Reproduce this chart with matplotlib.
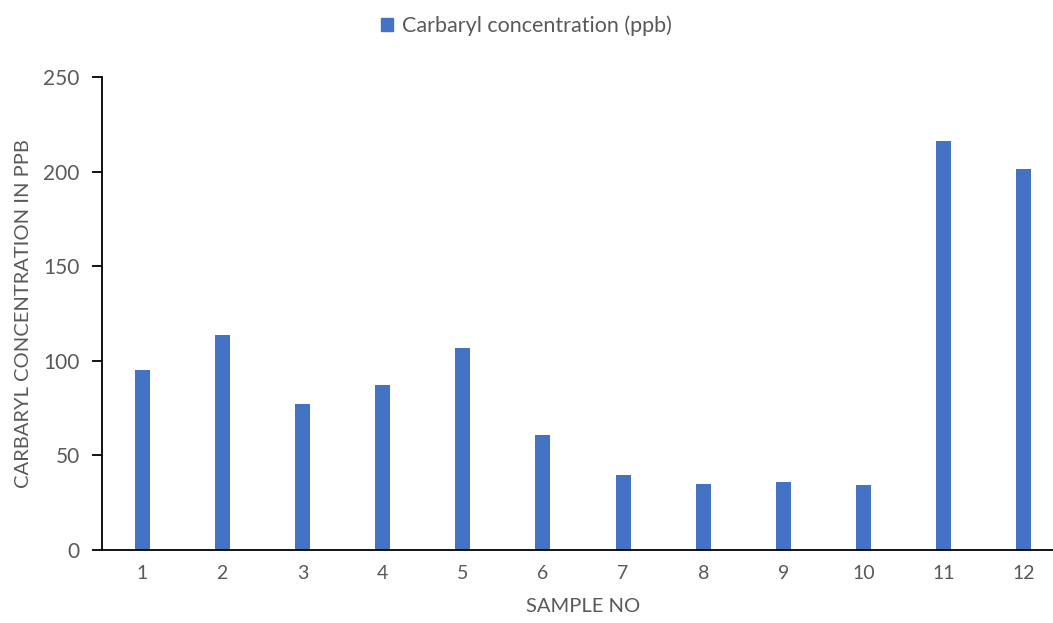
import matplotlib
matplotlib.use("Agg")
import matplotlib.pyplot as plt
from matplotlib.patches import Patch

samples = ["1", "2", "3", "4", "5", "6", "7", "8", "9", "10", "11", "12"]
carbaryl_ppb = [95.0, 113.7, 77.3, 87.0, 106.8, 61.0, 39.6, 35.0, 36.0, 34.6, 216.3, 201.6]
series_name = "Carbaryl concentration (ppb)"
yticks = [0, 50, 100, 150, 200, 250]

plt.rcParams['font.family'] = ['Lato', 'DejaVu Sans']
gray = "#595959"
blue = "#4472C4"

fig = plt.figure(figsize=(10.53, 6.23), dpi=100)
left_px, right_px = 102, 1064
ax = fig.add_axes([left_px/1053, 1 - 550/623, (right_px-left_px)/1053, (550-77)/623])

x = list(range(len(samples)))
ax.bar(x, carbaryl_ppb, width=0.187, color=blue, zorder=2)

ax.set_xlim(-0.5, len(samples) - 0.5)
ax.set_ylim(0, 250)
ax.set_yticks(yticks)
ax.set_yticklabels([str(t) for t in yticks], fontsize=15, color=gray)
ax.set_xticks(x)
ax.set_xticklabels(samples, fontsize=14, color=gray)

for s in ["top", "right"]:
    ax.spines[s].set_visible(False)
ax.spines["left"].set_linewidth(1.3)
ax.spines["bottom"].set_linewidth(1.3)
ax.spines["left"].set_color("black")
ax.spines["bottom"].set_color("black")
ax.tick_params(axis="y", direction="out", length=7, width=1.3, pad=9)
ax.tick_params(axis="x", length=0, pad=11)

ax.set_xlabel("SAMPLE NO", fontsize=14.5, color=gray, labelpad=11)
ax.set_ylabel("CARBARYL CONCENTRATION IN PPB", fontsize=14.5, color=gray, labelpad=8)

handles = [Patch(facecolor=blue, edgecolor=blue)]
fig.legend(handles, [series_name], loc="center", bbox_to_anchor=(0.5, 1 - 26/623),
           frameon=False, fontsize=15.5, handlelength=0.55, handleheight=0.55,
           handletextpad=0.45, labelcolor=gray)

fig.savefig("out.png", dpi=100)
